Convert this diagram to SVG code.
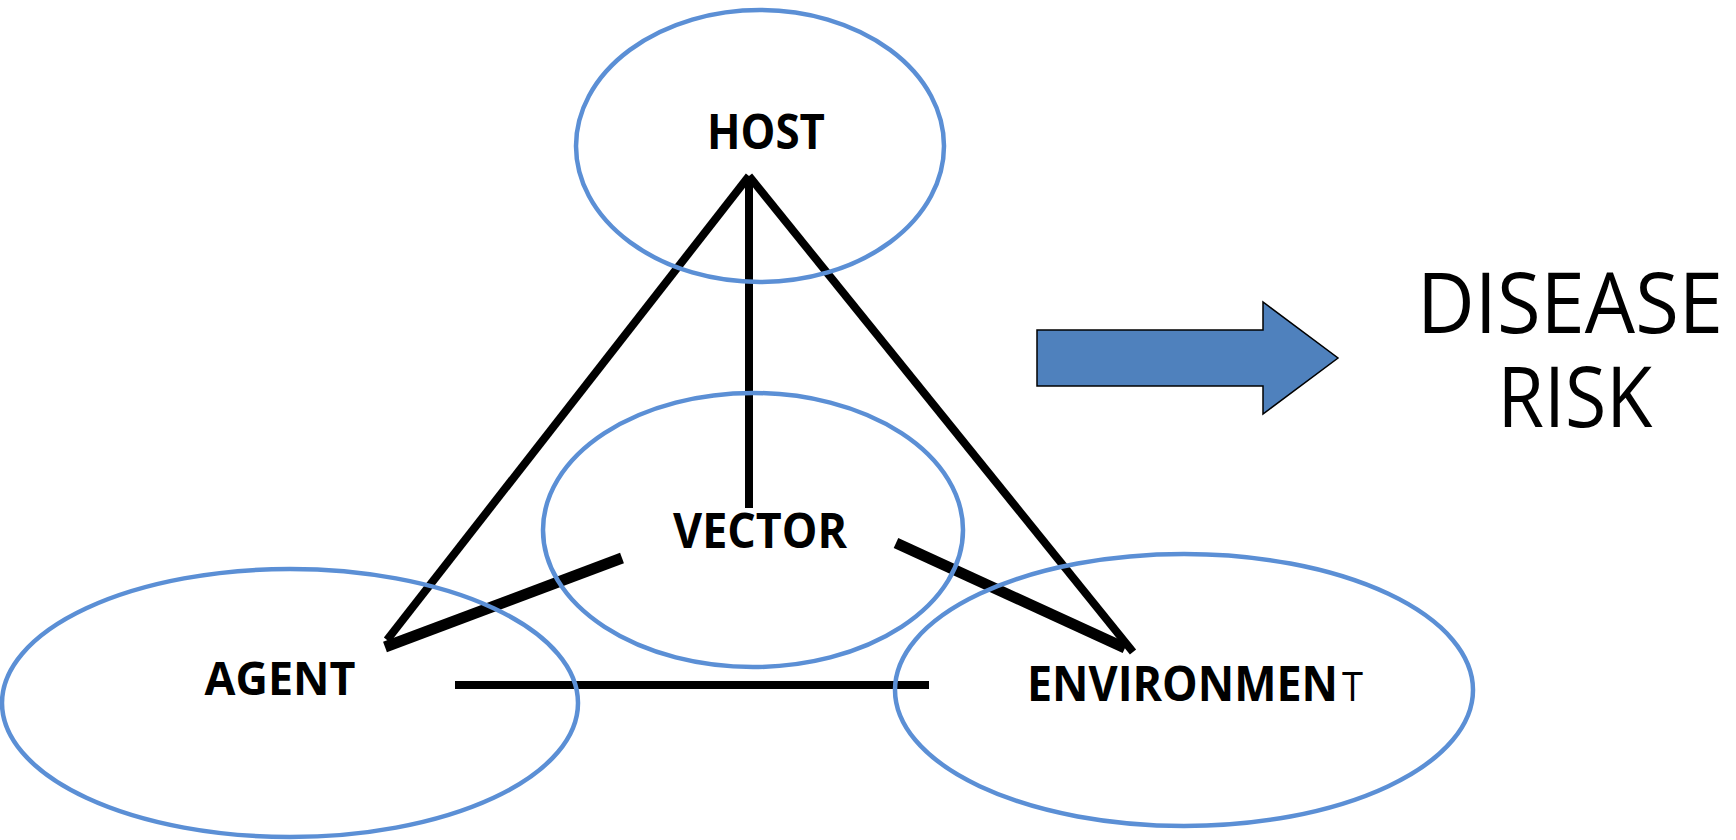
<svg xmlns="http://www.w3.org/2000/svg" width="1736" height="840" viewBox="0 0 1736 840">
  <style>
    .ring { fill: none; stroke: #5B8FD5; stroke-width: 4.5; }
    .label { font-family: "Open Sans", "Noto Sans", "Liberation Sans", sans-serif; font-weight: 700; fill: #000; }
    .big { font-family: "Open Sans", "Noto Sans", "Liberation Sans", sans-serif; font-weight: 400; fill: #000; font-size: 84px; text-anchor: middle; }
    .thin { stroke: #000; stroke-width: 8; fill: none; }
    .thick { stroke: #000; stroke-width: 11; fill: none; }
  </style>

  <!-- links between the four factors -->
  <g id="connectors">
    <line class="thin" x1="749" y1="176" x2="387" y2="640"/>
    <line class="thin" x1="749" y1="176" x2="1133" y2="652"/>
    <line class="thin" x1="749" y1="176" x2="749" y2="508"/>
    <line class="thick" x1="385" y1="647" x2="622" y2="558"/>
    <line class="thick" x1="896" y1="543" x2="1125" y2="648"/>
    <line class="thin" stroke-width="9" x1="455" y1="685" x2="929" y2="685"/>
  </g>

  <g id="host">
    <ellipse class="ring" cx="760" cy="146" rx="184" ry="136"/>
    <text class="label" x="766" y="149" font-size="48" text-anchor="middle" textLength="118" lengthAdjust="spacingAndGlyphs">HOST</text>
  </g>

  <g id="vector">
    <ellipse class="ring" cx="753" cy="530" rx="210" ry="137"/>
    <text class="label" x="760" y="548" font-size="48" text-anchor="middle" textLength="174" lengthAdjust="spacingAndGlyphs">VECTOR</text>
  </g>

  <g id="agent">
    <ellipse class="ring" cx="290" cy="703" rx="288" ry="134"/>
    <text class="label" x="280" y="695" font-size="46" text-anchor="middle" textLength="151" lengthAdjust="spacingAndGlyphs">AGENT</text>
  </g>

  <g id="environment">
    <ellipse class="ring" cx="1184" cy="690" rx="289" ry="136"/>
    <text class="label" x="1027" y="701" font-size="48" textLength="311" lengthAdjust="spacingAndGlyphs">ENVIRONMEN</text>
    <text x="1342" y="701" font-family="Open Sans, Noto Sans, sans-serif" font-size="40" textLength="21" lengthAdjust="spacingAndGlyphs">T</text>
  </g>

  <!-- outcome arrow -->
  <g id="arrow">
    <polygon points="1037,330 1263,330 1263,302 1338,358 1263,414 1263,386 1037,386" fill="#4F81BD" stroke="#000" stroke-width="1.5" stroke-linejoin="miter"/>
  </g>

  <g id="disease-risk">
    <text class="big" x="1570" y="333" textLength="306" lengthAdjust="spacingAndGlyphs">DISEASE</text>
    <text class="big" x="1575" y="427" textLength="155" lengthAdjust="spacingAndGlyphs">RISK</text>
  </g>
</svg>
